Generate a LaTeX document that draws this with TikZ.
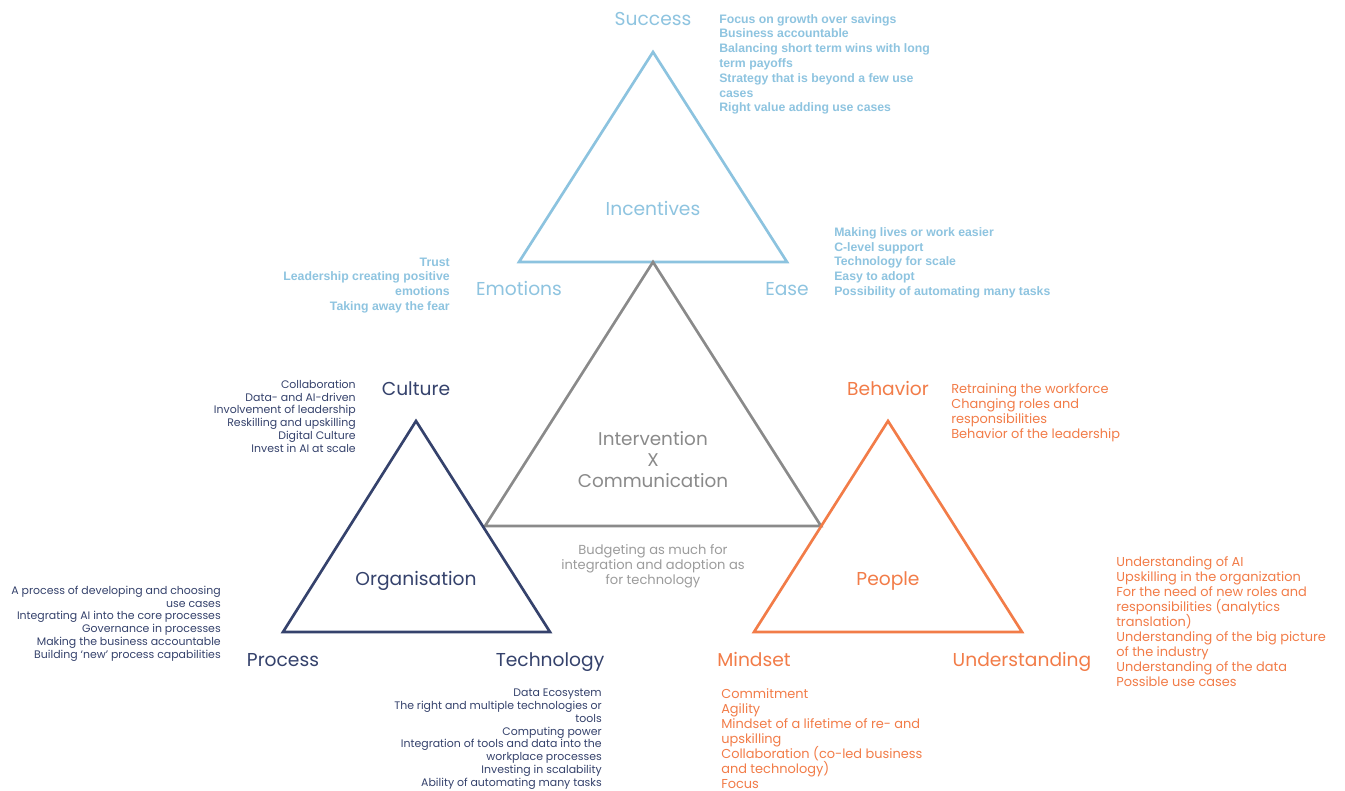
\documentclass[tikz,border=0pt]{standalone}
\usepackage{fontspec}
\setmainfont{Poppins}
\newfontfamily\arialb{Liberation Sans Bold}
\newcommand\tightlns{\lineskiplimit=-100pt\relax\lineskip=0pt\relax}
\definecolor{blueC}{HTML}{8CC3DF}
\definecolor{blueT}{HTML}{8EC4E0}
\definecolor{navyC}{HTML}{35426C}
\definecolor{orangeC}{HTML}{F27C48}
\definecolor{grayC}{HTML}{8A8A8A}
\begin{document}
\begin{tikzpicture}[x=0.75pt,y=-0.75pt,
  tri/.style={line width=2pt, line join=miter},
  lbl/.style={font=\fontsize{14}{17}\selectfont, inner sep=0, anchor=base},
  bluelist/.style={font={\arialb\fontsize{9.2}{11.1}\selectfont\tightlns}, text=blueT, inner sep=0},
  navylist/.style={font={\fontsize{8.2}{9.65}\selectfont\tightlns}, text=navyC, inner sep=0, align=right, anchor=base east},
  orangelist/.style={font={\fontsize{9.7}{11.2}\selectfont\tightlns}, text=orangeC, inner sep=0, align=left, anchor=base west},
]
\path[fill=white, use as bounding box] (0,0) rectangle (1345,791);
% triangles
\coordinate (iA) at (653,52); \coordinate (iL) at (519,262); \coordinate (iR) at (787,262);
\coordinate (gA) at (653,262); \coordinate (gL) at (485,526); \coordinate (gR) at (821,526);
\coordinate (oA) at (416,421); \coordinate (oL) at (283,632); \coordinate (oR) at (550,632);
\coordinate (pA) at (888,421); \coordinate (pL) at (754,632); \coordinate (pR) at (1022,632);
\draw[tri, blueC] (iA) -- (iL) -- (iR) -- cycle;
\draw[tri, grayC] (gA) -- (gL) -- (gR) -- cycle;
\draw[tri, navyC] (oA) -- (oL) -- (oR) -- cycle;
\draw[tri, orangeC] (pA) -- (pL) -- (pR) -- cycle;
% centre labels (anchored at baseline)
\node[lbl, text=blueT] (incentives) at (653,215.5) {Incentives};
\node[lbl, text=grayC, align=center, anchor=center, font={\fontsize{13.8}{15.8}\selectfont\tightlns}] (interv) at (653,460) {Intervention\\X\\Communication};
\node[lbl, text=navyC] (organisation) at (416,585.5) {Organisation};
\node[lbl, text=orangeC] (people) at (888,585.5) {People};
% corner labels
\node[lbl, text=blueT] (success) at (653,25.5) {Success};
\node[lbl, text=blueT] (emotions) at (519,295.5) {Emotions};
\node[lbl, text=blueT] (ease) at (787,295.5) {Ease};
\node[lbl, text=navyC] (culture) at (416,395.5) {Culture};
\node[lbl, text=navyC] (process) at (283,666.5) {Process};
\node[lbl, text=navyC] (technology) at (550,666.5) {Technology};
\node[lbl, text=orangeC] (behavior) at (888,395.5) {Behavior};
\node[lbl, text=orangeC] (mindset) at (754,666.5) {Mindset};
\node[lbl, text=orangeC] (understanding) at (1022,666.5) {Understanding};
% lists (anchored at the baseline of their last line)
\node[bluelist, align=left, anchor=base west] (successlist) at (719,112) {Focus on growth over savings\\Business accountable\\Balancing short term wins with long\\term payoffs\\Strategy that is beyond a few use\\cases\\Right value adding use cases};
\node[bluelist, align=right, anchor=base east] (emotionslist) at (450,310.5) {Trust\\Leadership creating positive\\emotions\\Taking away the fear};
\node[bluelist, align=left, anchor=base west] (easelist) at (834,295.5) {Making lives or work easier\\C-level support\\Technology for scale\\Easy to adopt\\Possibility of automating many tasks};
\node[navylist] (culturelist) at (356,452.5) {Collaboration\\Data- and AI-driven\\Involvement of leadership\\Reskilling and upskilling\\Digital Culture\\Invest in AI at scale};
\node[navylist] (processlist) at (221,658.5) {A process of developing and choosing\\use cases\\Integrating AI into the core processes\\Governance in processes\\Making the business accountable\\Building `new' process capabilities};
\node[navylist] (techlist) at (602,786.5) {Data Ecosystem\\The right and multiple technologies or\\tools\\Computing power\\Integration of tools and data into the\\workplace processes\\Investing in scalability\\Ability of automating many tasks};
\node[orangelist] (behaviorlist) at (951,438) {Retraining the workforce\\Changing roles and\\responsibilities\\Behavior of the leadership};
\node[orangelist] (mindsetlist) at (721,788) {Commitment\\Agility\\Mindset of a lifetime of re- and\\upskilling\\Collaboration (co-led business\\and technology)\\Focus};
\node[orangelist] (understandinglist) at (1116,686) {Understanding of AI\\Upskilling in the organization\\For the need of new roles and\\responsibilities (analytics\\translation)\\Understanding of the big picture\\of the industry\\Understanding of the data\\Possible use cases};
\node[inner sep=0, align=center, anchor=base, text=grayC!85, font={\fontsize{9.8}{11.2}\selectfont\tightlns}] (budget) at (653,584) {Budgeting as much for\\integration and adoption as\\for technology};
\end{tikzpicture}
\end{document}
